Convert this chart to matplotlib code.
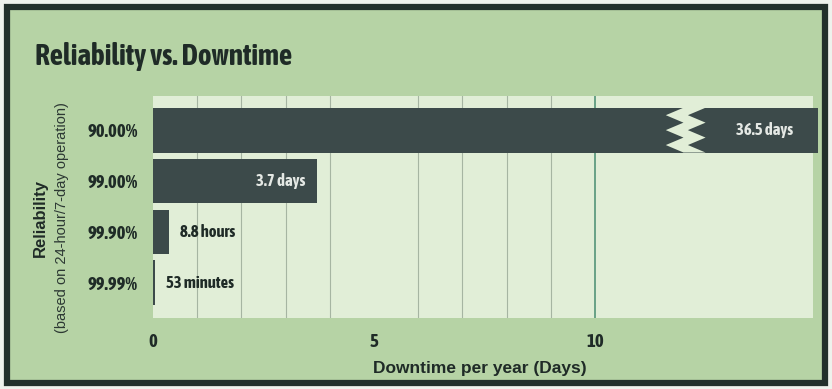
import matplotlib
matplotlib.use('Agg')
import matplotlib.pyplot as plt
from matplotlib import font_manager
from matplotlib.patches import Polygon, Rectangle

# Chart data
reliability = ['90.00%', '99.00%', '99.90%', '99.99%']
downtime_days = [36.5, 3.7, 8.8 / 24, 53 / 1440]
value_labels = ['36.5 days', '3.7 days', '8.8 hours', '53 minutes']
x_ticks = [0, 5, 10]
grid_days = list(range(0, 10))

# Colours
outer_bg = '#b6d3a5'
plot_bg = '#e1eed7'
bar_color = '#3c4a4a'
text_color = '#1f2b27'

# Pick a condensed face if one is installed
cond_name, cond_stretch = 'Liberation Sans', 'normal'
found = []
for f in font_manager.fontManager.ttflist:
    st = str(f.stretch)
    if ('condensed' in st or 'Narrow' in f.name or 'Condensed' in f.name) and f.weight in (700, 'bold'):
        found.append((f.name, st))
if found:
    found.sort(key=lambda t: ('Noto' not in t[0], t[0]))
    cond_name, cond_stretch = found[0]
cond = dict(family=[cond_name, 'DejaVu Sans'], stretch=cond_stretch)
plain = ['Liberation Sans', 'DejaVu Sans']

fig = plt.figure(figsize=(8.32, 3.89), dpi=100)
fig.patch.set_facecolor('#eef2ec')
fig.patches.append(Rectangle((7 / 832, 6 / 389), 818 / 832, 376 / 389,
                             transform=fig.transFigure, facecolor=outer_bg,
                             edgecolor='#22302b', linewidth=4.5, zorder=-5))

ax = fig.add_axes([153 / 832, 1 - 318 / 389, 660 / 832, 222 / 389])
ax.set_facecolor(plot_bg)
for s in ax.spines.values():
    s.set_visible(False)

xmax = 14.93
break_at = 12.0
ypos = list(range(len(reliability)))
height = 0.88

# bars, long one clipped at the right edge and broken
shown = [min(v, 15.05) for v in downtime_days]
bars = ax.barh(ypos, shown, height=height, color=bar_color, zorder=3, clip_on=False)

for y, v, lab, w in zip(ypos, downtime_days, value_labels, shown):
    if v > 1:
        if v > xmax:
            # zigzag break
            top, bot = y - height / 2, y + height / 2
            n = 6
            amp, gap = 0.4, 0.5
            left = []
            for i in range(n + 1):
                yy = top + (bot - top) * i / n
                xx = break_at - (amp if i % 2 else 0)
                left.append((xx, yy))
            right = [(x + gap, yy) for x, yy in reversed(left)]
            ax.add_patch(Polygon(left + right, closed=True, facecolor=plot_bg,
                                 edgecolor='none', zorder=4))
        ax.annotate(lab, (w, y), xytext=(-18 if v > xmax else -8, 0),
                    textcoords='offset points', ha='right', va='center',
                    color='#e4e8e4', fontsize=12, fontweight='bold',
                    zorder=5, annotation_clip=False, **cond)
    else:
        ax.annotate(lab, (w, y), xytext=(8, 0), textcoords='offset points',
                    ha='left', va='center', color=text_color, fontsize=12,
                    fontweight='bold', zorder=5, **cond)

ax.set_xlim(0, xmax)
ax.set_ylim(len(reliability) - 1 + 0.69, -0.67)

ax.set_xticks(x_ticks)
ax.set_xticks(grid_days, minor=True)
ax.grid(which='minor', axis='x', color='#a6b5a2', linewidth=0.8, zorder=1)
ax.axvline(x_ticks[-1], color='#5f9c80', linewidth=1.3, zorder=1)
ax.set_axisbelow(True)
ax.set_yticks(ypos)
ax.set_yticklabels(reliability)
ax.tick_params(which='both', length=0)
ax.tick_params(axis='x', pad=11)
ax.tick_params(axis='y', pad=11)
for t in ax.get_xticklabels() + ax.get_yticklabels():
    t.set_fontfamily(cond['family'])
    t.set_fontstretch(cond['stretch'])
    t.set_fontweight('bold')
    t.set_fontsize(13.5)
    t.set_color(text_color)

# Titles and axis labels
fig.text(35 / 832, 1 - 65 / 389, 'Reliability vs. Downtime', fontsize=21,
         fontweight='bold', color=text_color, va='baseline', **cond)
fig.text(40 / 832, 1 - 218 / 389, 'Reliability', rotation=90, ha='center',
         va='center', fontsize=12, fontweight='bold', family=plain, color=text_color)
fig.text(62 / 832, 1 - 218 / 389, '(based on 24-hour/7-day operation)', rotation=90,
         ha='center', va='center', fontsize=10.5, family=plain, color='#2c3833')
fig.text(480 / 832, 1 - 368 / 389, 'Downtime per year (Days)', ha='center',
         va='center', fontsize=12.5, fontweight='bold', family=plain, color=text_color)

fig.savefig('out.png', dpi=100, facecolor=fig.get_facecolor())
